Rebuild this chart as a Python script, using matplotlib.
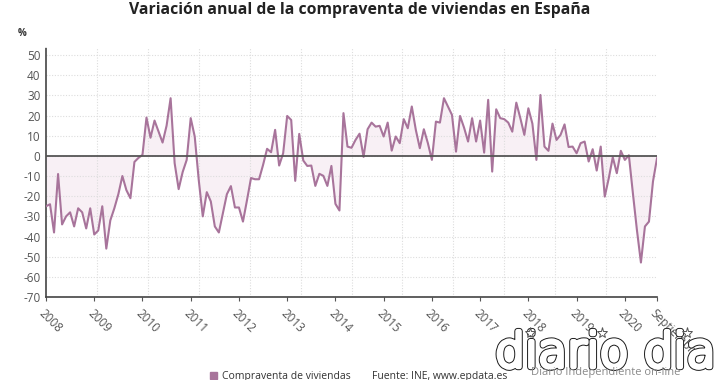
import numpy as np
import matplotlib
matplotlib.use("Agg")
import matplotlib.pyplot as plt
import matplotlib.patheffects as pe
from matplotlib.patches import Rectangle
from matplotlib.lines import Line2D

title = "Variación anual de la compraventa de viviendas en España"
series_name = "Compraventa de viviendas"
source = "Fuente: INE, www.epdata.es"
year_labels = ["2008", "2009", "2010", "2011", "2012", "2013", "2014",
               "2015", "2016", "2017", "2018", "2019", "2020"]
last_label = "Septiembre"
y_ticks = [50, 40, 30, 20, 10, 0, -10, -20, -30, -40, -50, -60, -70]

# Monthly year-on-year change (%), Jan 2008 - Sep 2020
values = [
    -25, -24, -38, -9, -34, -30, -28, -35, -26, -28, -36, -26,
    -39, -37, -25, -46, -32, -26, -19, -10, -17, -21, -3, -1,
    0.5, 19, 9, 17.5, 12, 6.6, 15, 28.6, -3.6, -16.5, -8, -2,
    18.7, 9.6, -12, -30, -18, -22.6, -35, -38, -28.4, -19, -15, -25.6,
    -25.6, -32.6, -22, -11, -11.6, -11.6, -4.5, 3.5, 1.8, 12.9, -4.8, 1.3,
    19.8, 17.8, -12.4, 10.9, -2.3, -5, -4.8, -14.9, -8.9, -9.9, -14.9, -5,
    -23.8, -27.1, 21.2, 4.6, 4, 7.9, 11, -0.5, 13.2, 16.5, 14.5, 14.9,
    9.6, 16.5, 2.6, 9.6, 6.3, 18.2, 13.7, 24.5, 12.9, 3.8, 13.2, 6.3,
    -2, 17, 16.5, 28.6, 24.5, 20.3, 2.1, 19.8, 14, 7.1, 18.7, 7.1,
    17.5, 1.6, 27.8, -7.8, 23.1, 18.7, 18.2, 16.5, 12, 26.4, 18.7, 10.4,
    23.6, 16, -2, 30.2, 4.6, 2.5, 16, 7.9, 10.4, 15.6, 4.4, 4.6,
    1.3, 6.3, 7.1, -2.8, 3.3, -7.3, 4.6, -20.2, -11.1, -0.7, -8.6, 2.5,
    -2, 0.3, -18.5, -36.7, -52.9, -35, -32.6, -12.7, -1.2,
]

line_color = "#a8749b"
fill_color = "#f8f0f5"
text_color = "#555555"

plt.rcParams['font.family'] = ['Open Sans', 'DejaVu Sans']

fig = plt.figure(figsize=(7.2, 3.8), dpi=100)
fig.patch.set_facecolor("white")
ax = fig.add_axes([46/720, 1-297/380, (657-46)/720, 249/380])

x = np.arange(len(values))
y = np.array(values, dtype=float)
ax.fill_between(x, y, 0, color=fill_color, lw=0, zorder=1)
ax.plot(x, y, color=line_color, lw=1.5, zorder=3)
ax.axhline(0, color="#555555", lw=1.3, zorder=4)

n = len(values)
ax.set_xlim(0, n - 1)
ax.set_ylim(-70, 53.5)

ax.set_yticks(y_ticks)
ax.set_yticklabels([str(t) for t in y_ticks], fontsize=8.5, color=text_color)

xt = list(range(0, 12 * len(year_labels), 12)) + [n - 1]
ax.set_xticks(xt)
ax.set_xticklabels(year_labels + [last_label], rotation=-45, ha="left",
                   va="top", rotation_mode="anchor", fontsize=8.5,
                   color=text_color)
ax.set_xticks(np.linspace(0, n - 1, 13), minor=True)
ax.tick_params(axis="x", which="minor", length=0)
ax.tick_params(axis="x", which="major", length=3, color="#555555", pad=4)
ax.tick_params(axis="y", length=0, pad=4)

ax.grid(axis="y", which="major", color="#dddddd", ls=(0, (1, 1.5)), lw=0.8, zorder=0)
ax.grid(axis="x", which="minor", color="#dddddd", ls=(0, (1, 1.5)), lw=0.8, zorder=0)
ax.grid(axis="x", which="major", visible=False)

for s in ["top", "right"]:
    ax.spines[s].set_visible(False)
for s in ["left", "bottom"]:
    ax.spines[s].set_color("#444444")
    ax.spines[s].set_linestyle((0, (1, 1)))
    ax.spines[s].set_linewidth(1.2)

fig.text(360/720, 1-2/380, title, ha="center", va="top", fontsize=11.3,
         fontweight="bold", color="#222222")
fig.text(18/720, 1-33/380, "%", ha="left", va="center", fontsize=7,
         color="#333333", fontweight="bold")

# legend / source
fig.patches.append(Rectangle((210/720, 1/380), 7/720, 7/380,
                             transform=fig.transFigure, color=line_color))
fig.text(222/720, 1-376/380, series_name, ha="left", va="center",
         fontsize=7.5, color="#333333")
fig.text(372/720, 1-376/380, source, ha="left", va="center",
         fontsize=7.5, color="#333333")

# watermark (outlined logo text)
wm = fig.text(495/720, 1-367/380, "diario dia", ha="left", va="baseline",
              fontsize=34, color="white", family="DejaVu Sans",
              fontweight=200, zorder=10)
wm.set_path_effects([pe.withStroke(linewidth=4.6, foreground="#1a1a1a"),
                     pe.withStroke(linewidth=3.2, foreground="white"),
                     pe.Normal()])
fig.text(606/720, 1-373/380, "Diario Independiente on-line", ha="center",
         va="center", fontsize=8, color="#8a8a8a", zorder=11)
for sx in (530, 602, 687):
    fig.add_artist(Line2D([sx/720], [1-333/380], transform=fig.transFigure,
                          marker="*", ms=8, mfc="white", mec="#555555",
                          mew=0.7, ls="none", zorder=11))

fig.savefig("out.png", dpi=100, facecolor="white")
